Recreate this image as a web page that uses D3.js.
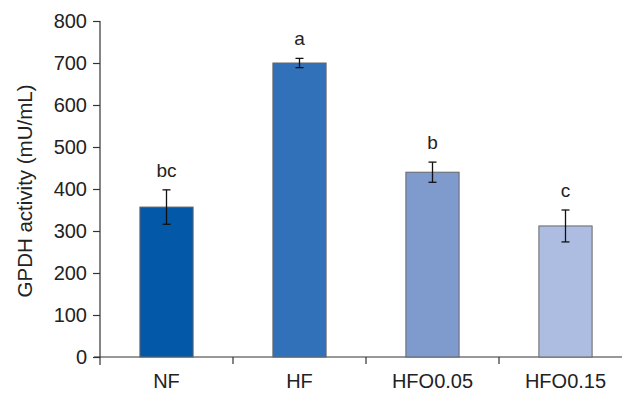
<!DOCTYPE html>
<html>
<head>
<meta charset="utf-8">
<script src="https://cdn.jsdelivr.net/npm/d3@7"></script>
<style>
  body { margin: 0; background: #fff; }
  svg { display: block; font-family: "Liberation Sans", Arial, sans-serif; }
  .axis path, .axis line { stroke: #333; stroke-width: 1.2; }
  .axis text { fill: #222; }
</style>
</head>
<body>
<div class="chart-gpdh"></div>
<script>
// values
const groups = ['NF', 'HF', 'HFO0.05', 'HFO0.15'];
const means = [357, 700, 440, 312];
const errors = [41, 11, 24, 38];
const letters = ['bc', 'a', 'b', 'c'];
const colors = ['#0358a8', '#3171b9', '#7f9acc', '#adbde1'];
const yTicks = [0, 100, 200, 300, 400, 500, 600, 700, 800];

const data = groups.map((g, i) => ({
  name: g, value: means[i], err: errors[i], letter: letters[i], color: colors[i],
}));

const W = 622, H = 393;
const margin = { top: 21, right: 0, bottom: 36, left: 100 };

const svg = d3.select('.chart-gpdh').append('svg')
  .attr('width', W)
  .attr('height', H);

const x = d3.scaleBand()
  .domain(groups)
  .range([margin.left, margin.left + 133 * groups.length])
  .paddingInner(0.6)
  .paddingOuter(0.3);

const y = d3.scaleLinear()
  .domain([0, 800])
  .range([H - margin.bottom, margin.top]);

// y axis
const yAxis = svg.append('g')
  .attr('class', 'axis')
  .attr('transform', `translate(${margin.left},0)`)
  .call(d3.axisLeft(y).tickValues(yTicks).tickSize(7).tickPadding(6).tickSizeOuter(0));
yAxis.select('.domain').attr('d', `M0,${y(800)}V${y(0) + 8}`);
yAxis.selectAll('text').style('font-size', '20px');

// x axis: ticks sit between categories
const step = x.step();
const bounds = d3.range(1, groups.length).map((i) => margin.left + i * step);
const xg = svg.append('g').attr('class', 'axis');
xg.append('line')
  .attr('x1', margin.left - 6).attr('x2', W)
  .attr('y1', y(0)).attr('y2', y(0));
xg.selectAll('.sep')
  .data(bounds)
  .enter()
  .append('line')
  .attr('x1', (d) => d).attr('x2', (d) => d)
  .attr('y1', y(0)).attr('y2', y(0) + 7);
xg.selectAll('.lab')
  .data(groups)
  .enter()
  .append('text')
  .attr('x', (d) => x(d) + x.bandwidth() / 2)
  .attr('y', y(0) + 31)
  .attr('text-anchor', 'middle')
  .style('font-size', '20px')
  .text((d) => d);

// bars
svg.selectAll('.bar')
  .data(data)
  .enter()
  .append('rect')
  .attr('class', 'bar')
  .attr('x', (d) => x(d.name))
  .attr('width', x.bandwidth())
  .attr('y', (d) => y(d.value))
  .attr('height', (d) => y(0) - y(d.value))
  .attr('fill', (d) => d.color)
  .attr('stroke', '#666')
  .attr('stroke-width', 1);

// error bars
const eb = svg.selectAll('.err')
  .data(data)
  .enter()
  .append('g')
  .attr('stroke', '#111')
  .attr('stroke-width', 1.3);
const cx = (d) => x(d.name) + x.bandwidth() / 2;
eb.append('line')
  .attr('x1', cx).attr('x2', cx)
  .attr('y1', (d) => y(d.value + d.err))
  .attr('y2', (d) => y(d.value - d.err));
eb.append('line')
  .attr('x1', (d) => cx(d) - 4).attr('x2', (d) => cx(d) + 4)
  .attr('y1', (d) => y(d.value + d.err)).attr('y2', (d) => y(d.value + d.err));
eb.append('line')
  .attr('x1', (d) => cx(d) - 4).attr('x2', (d) => cx(d) + 4)
  .attr('y1', (d) => y(d.value - d.err)).attr('y2', (d) => y(d.value - d.err));

// significance letters
svg.selectAll('.letter')
  .data(data)
  .enter()
  .append('text')
  .attr('x', cx)
  .attr('y', (d) => y(d.value + d.err) - 13)
  .attr('text-anchor', 'middle')
  .style('font-size', '19px')
  .style('fill', '#222')
  .text((d) => d.letter);

// y label
svg.append('text')
  .attr('transform', `translate(32,${(y(0) + y(800)) / 2 + 2}) rotate(-90)`)
  .attr('text-anchor', 'middle')
  .style('font-size', '20.5px')
  .style('fill', '#222')
  .text('GPDH activity (mU/mL)');
</script>
</body>
</html>
